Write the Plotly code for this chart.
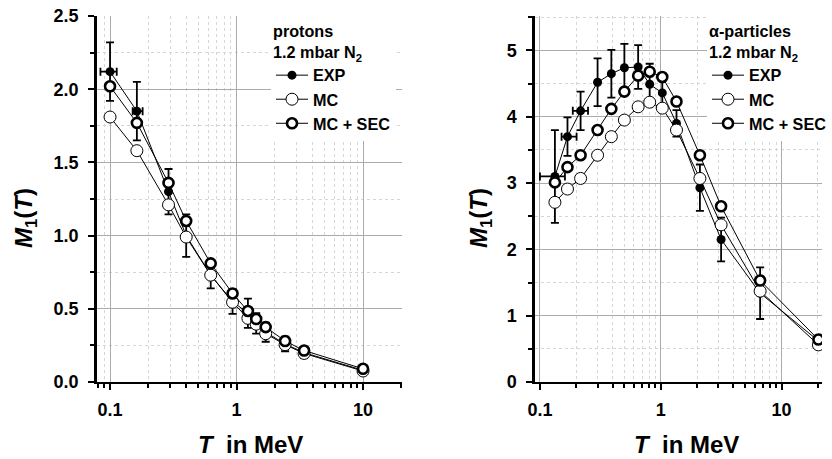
import plotly.graph_objects as go

# ---------------- data: protons ----------------
T_p = [0.1, 0.163, 0.29, 0.40, 0.625, 0.93, 1.23, 1.43, 1.70, 2.42, 3.42, 10.0]
exp_p = [2.12, 1.85, 1.30, 1.00, 0.73, 0.55, 0.47, 0.40, 0.34, 0.26, 0.20, 0.08]
exp_p_err = [0.20, 0.20, 0.155, 0.145, 0.09, 0.085, 0.10, 0.07, 0.065, 0.05, 0.035, 0.01]
exp_p_xerr_plus = [0.013, 0.018, 0, 0, 0, 0, 0, 0, 0, 0, 0, 0]
exp_p_xerr_minus = [0.016, 0.012, 0, 0, 0, 0, 0, 0, 0, 0, 0, 0]
mc_p = [1.81, 1.58, 1.21, 0.99, 0.73, 0.545, 0.435, 0.395, 0.33, 0.255, 0.195, 0.075]
sec_p = [2.02, 1.77, 1.36, 1.10, 0.81, 0.605, 0.485, 0.43, 0.375, 0.28, 0.215, 0.09]

# ---------------- data: alpha particles ----------------
T_a = [0.133, 0.169, 0.217, 0.30, 0.39, 0.50, 0.65, 0.81, 1.03, 1.35, 2.11, 3.16, 6.65, 20.2]
exp_a = [3.10, 3.70, 4.09, 4.52, 4.65, 4.74, 4.75, 4.49, 4.36, 3.90, 2.93, 2.15, 1.34, 0.62]
exp_a_err = [0.70, 0.29, 0.29, 0.36, 0.36, 0.36, 0.33, 0.31, 0.25, 0.20, 0.35, 0.33, 0.39, 0.05]
exp_a_xerr_plus = [0.028, 0.032, 0.033, 0, 0, 0, 0, 0, 0, 0, 0, 0, 0, 0]
exp_a_xerr_minus = [0.033, 0.018, 0.030, 0, 0, 0, 0, 0, 0, 0, 0, 0, 0, 0]
mc_a = [2.71, 2.91, 3.07, 3.42, 3.70, 3.95, 4.15, 4.22, 4.13, 3.80, 3.07, 2.37, 1.37, 0.56]
sec_a = [3.01, 3.24, 3.42, 3.80, 4.12, 4.38, 4.62, 4.68, 4.60, 4.23, 3.42, 2.65, 1.53, 0.64]

x_ticks = [0.1, 1, 10]
x_ticklabels = ["0.1", "1", "10"]

FONT = "Liberation Sans, Arial, sans-serif"
BLACK = "#000000"

fig = go.Figure()


def add_panel(T, exp, exp_err, xep, xem, mc, sec, xa, ya, legend):
    fig.add_trace(go.Scatter(
        x=T, y=exp, name="EXP", mode="lines+markers", xaxis=xa, yaxis=ya, legend=legend,
        line=dict(color=BLACK, width=1),
        marker=dict(symbol="circle", size=9, color=BLACK),
        error_y=dict(type="data", array=exp_err, color=BLACK, thickness=1.8, width=4),
        error_x=dict(type="data", array=xep, arrayminus=xem, color=BLACK, thickness=1.8, width=4),
    ))
    fig.add_trace(go.Scatter(
        x=T, y=mc, name="MC", mode="lines+markers", xaxis=xa, yaxis=ya, legend=legend,
        line=dict(color=BLACK, width=1),
        marker=dict(symbol="circle", size=12, color="white", line=dict(color=BLACK, width=1)),
    ))
    fig.add_trace(go.Scatter(
        x=T, y=sec, name="MC + SEC", mode="lines+markers", xaxis=xa, yaxis=ya, legend=legend,
        line=dict(color=BLACK, width=1),
        marker=dict(symbol="circle", size=10, color="white", line=dict(color=BLACK, width=2.6)),
    ))


add_panel(T_p, exp_p, exp_p_err, exp_p_xerr_plus, exp_p_xerr_minus, mc_p, sec_p, "x", "y", "legend")
add_panel(T_a, exp_a, exp_a_err, exp_a_xerr_plus, exp_a_xerr_minus, mc_a, sec_a, "x2", "y2", "legend2")

L, R, TOP, BOT = 97, 0, 16, 77
W, H = 832, 459
pw = W - L - R


def px2dom(a, b):
    return [(a - L) / pw, (b - L) / pw]


tickfont = dict(family=FONT, size=18, color=BLACK, weight="bold")
major_grid = "#ababab"
minor_grid = "#d6d6d6"

xcommon = dict(
    type="log", tickvals=x_ticks, ticktext=x_ticklabels, tickfont=tickfont,
    showline=True, linecolor=BLACK, linewidth=2, ticks="outside", ticklen=6, tickwidth=2,
    tickcolor=BLACK, showgrid=True, gridcolor=major_grid, gridwidth=1, zeroline=False,
    ticklabelstandoff=4,
    minor=dict(dtick="D1", ticks="outside", ticklen=4, tickwidth=1.5, tickcolor=BLACK,
               showgrid=True, gridcolor=minor_grid, griddash="3px,3px", gridwidth=1),
)
ycommon = dict(
    tickfont=tickfont, showline=True, linecolor=BLACK, linewidth=2.5, ticks="outside",
    ticklen=6, tickwidth=2, tickcolor=BLACK, showgrid=True, gridcolor=major_grid, gridwidth=1,
    zeroline=False, ticklabelstandoff=6,
)

legend_font = dict(family=FONT, size=16.2, color=BLACK, weight="bold")

fig.update_layout(
    width=W, height=H, margin=dict(l=L, r=R, t=TOP, b=BOT),
    paper_bgcolor="white", plot_bgcolor="white",
    font=dict(family=FONT, color=BLACK),
    xaxis=dict(domain=px2dom(97, 402), range=[-1.103, 1.308], anchor="y", **xcommon),
    yaxis=dict(domain=[0, 1], range=[0, 2.5], dtick=0.5, tickformat=".1f", anchor="x",
               minor=dict(dtick=0.25, ticks="outside", ticklen=4, tickwidth=1.5, tickcolor=BLACK,
                          showgrid=True, gridcolor=minor_grid, griddash="3px,3px"),
               **ycommon),
    xaxis2=dict(domain=px2dom(535, 822), range=[-1.041, 1.335], anchor="y2", **xcommon),
    yaxis2=dict(domain=[0, 1], range=[0, 5.52], dtick=1, anchor="x2",
                minor=dict(dtick=0.5, ticks="outside", ticklen=4, tickwidth=1.5, tickcolor=BLACK,
                           showgrid=True, gridcolor=minor_grid, griddash="3px,3px"),
                **ycommon),
    legend=dict(
        x=(271 - L) / pw, y=1, xanchor="left", yanchor="top", bgcolor="white", borderwidth=0,
        font=legend_font,
        title=dict(text="protons<br>1.2 mbar N<sub>2</sub>", font=legend_font),
        tracegroupgap=0, itemwidth=32,
    ),
    legend2=dict(
        x=1, y=1, xanchor="right", yanchor="top", bgcolor="white", borderwidth=0,
        font=legend_font,
        title=dict(text="α-particles<br>1.2 mbar N<sub>2</sub>", font=legend_font),
        tracegroupgap=0, itemwidth=32,
    ),
    showlegend=True,
)

title_font = dict(family=FONT, size=24, color=BLACK, weight="bold")
ph = H - TOP - BOT


def ann(xpix, ypix, text, angle=0):
    fig.add_annotation(
        x=(xpix - L) / pw, y=(H - BOT - ypix) / ph, xref="paper", yref="paper",
        text=text, showarrow=False, textangle=angle, font=title_font,
        xanchor="center", yanchor="middle",
    )


ann(26, 218, "<i>M</i><sub>1</sub>(<i>T</i>)", -90)
ann(481, 218, "<i>M</i><sub>1</sub>(<i>T</i>)", -90)
ann(250, 444, "<i>T</i>\u00a0 in MeV")
ann(686, 444, "<i>T</i>\u00a0 in MeV")

fig.write_html("out.html")
